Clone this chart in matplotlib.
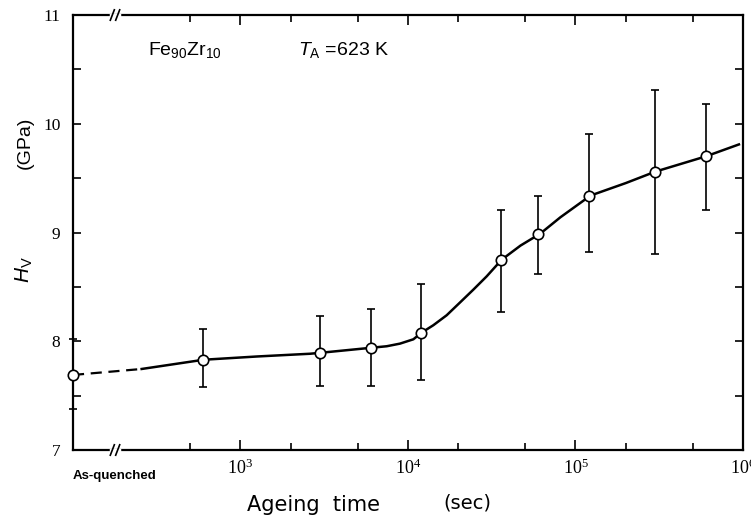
import numpy as np
import matplotlib.pyplot as plt
from matplotlib.ticker import FixedLocator, NullFormatter

plt.rcParams['mathtext.fontset'] = 'custom'
plt.rcParams['mathtext.rm'] = 'Liberation Sans'
plt.rcParams['mathtext.it'] = 'Liberation Sans:italic'

# measured points (as-quenched sample is put at the left edge, t = 1e2)
t_sec = [1e2, 600, 3000, 6000, 1.2e4, 3.6e4, 6e4, 1.2e5, 3e5, 6e5]
hv = [7.69, 7.83, 7.895, 7.94, 8.08, 8.75, 8.99, 9.34, 9.56, 9.70]
hv_hi = [8.02, 8.11, 8.23, 8.30, 8.53, 9.21, 9.34, 9.91, 10.31, 10.18]
hv_lo = [7.38, 7.58, 7.59, 7.59, 7.64, 8.27, 8.62, 8.82, 8.80, 9.21]

# hand drawn guide line
dash_t = [1e2, 257]
dash_hv = [7.69, 7.745]
curve_t = [257, 603, 1259, 2600, 3055, 6026, 7464, 8954, 10770, 12080, 14160,
           17020, 20430, 24540, 29510, 36260, 47000, 61660, 81283, 123027,
           2e5, 3e5, 6e5, 9.46e5]
curve_hv = [7.745, 7.83, 7.86, 7.885, 7.895, 7.94, 7.954, 7.978, 8.018, 8.08, 8.147,
            8.239, 8.356, 8.474, 8.597, 8.75, 8.88, 8.99, 9.14, 9.34,
            9.455, 9.56, 9.70, 9.81]

major_x = [1e3, 1e4, 1e5, 1e6]
major_x_labels = [r'$\mathregular{10^{3}}$', r'$\mathregular{10^{4}}$',
                  r'$\mathregular{10^{5}}$', r'$\mathregular{10^{6}}$']
minor_x = [500, 2000, 5000, 2e4, 5e4, 2e5, 5e5]

fig = plt.figure(figsize=(7.51, 5.18), dpi=100)
ax = fig.add_axes([0.0972, 0.1313, 0.8921, 0.8397])

lo_err = np.array(hv) - np.array(hv_lo)
hi_err = np.array(hv_hi) - np.array(hv)
ax.errorbar(t_sec, hv, yerr=[lo_err, hi_err], fmt='none', ecolor='black',
            elinewidth=1.2, capsize=3, capthick=1.2, clip_on=False, zorder=2)
ax.plot(dash_t, dash_hv, color='black', lw=1.6, ls=(0, (5, 3)), zorder=3)
ax.plot(curve_t, curve_hv, color='black', lw=1.8, zorder=3)
ax.plot(t_sec, hv, 'o', ms=7.5, mfc='white', mec='black', mew=1.2,
        clip_on=False, zorder=4)

ax.set_xscale('log')
ax.set_xlim(1e2, 1e6)
ax.set_ylim(7, 11)

ax.xaxis.set_major_locator(FixedLocator(major_x))
ax.set_xticklabels(major_x_labels, fontfamily='Liberation Serif', fontsize=13)
ax.xaxis.set_minor_locator(FixedLocator(minor_x))
ax.xaxis.set_minor_formatter(NullFormatter())
ax.set_yticks([7, 8, 9, 10, 11])
ax.set_yticklabels(['7', '8', '9', '10', '11'], fontfamily='Liberation Serif', fontsize=12.5)
ax.set_yticks([7.5, 8.5, 9.5, 10.5], minor=True)

ax.tick_params(which='both', direction='in', top=True, right=True, width=1.2)
ax.tick_params(axis='x', which='major', length=7, pad=6)
ax.tick_params(axis='x', which='minor', length=5)
ax.tick_params(axis='y', which='both', length=6, pad=9)
for s in ax.spines.values():
    s.set_linewidth(1.6)

# axis break marks on the top and bottom spines
bx = 0.0627
for yb in (0.0, 1.0):
    ax.plot([bx - 0.006, bx + 0.006], [yb, yb], color='white', lw=2.5,
            transform=ax.transAxes, clip_on=False, zorder=5)
    for dx in (-0.004, 0.004):
        ax.plot([bx + dx - 0.003, bx + dx + 0.003], [yb - 0.012, yb + 0.012],
                color='black', lw=1.2, transform=ax.transAxes, clip_on=False, zorder=6)

ax.text(1e2, -0.045, 'As-quenched', transform=ax.get_xaxis_transform(),
        ha='left', va='top', fontsize=9.5, fontweight='bold', fontfamily='Liberation Sans')

ax.text(0.112, 0.92, r'Fe$\mathregular{_{90}}$Zr$\mathregular{_{10}}$', transform=ax.transAxes,
        fontsize=14, fontfamily='Liberation Sans', va='center', ha='left')
ax.text(0.336, 0.92, r'$\mathit{T}_{\mathregular{A}}$ =623 K', transform=ax.transAxes,
        fontsize=14, fontfamily='Liberation Sans', va='center', ha='left')

fig.text(0.033, 0.725, '(GPa)', rotation=90, fontsize=14, fontfamily='Liberation Sans',
         ha='center', va='center')
fig.text(0.033, 0.48, r'$\mathit{H}_{\mathrm{V}}$', rotation=90, fontsize=15,
         fontfamily='Liberation Sans', ha='center', va='center')
fig.text(0.417, 0.025, 'Ageing  time', fontsize=15, fontfamily='DejaVu Sans',
         ha='center', va='center')
fig.text(0.622, 0.028, '(sec)', fontsize=14, fontfamily='DejaVu Sans',
         ha='center', va='center')

fig.savefig('out.png', dpi=100)
